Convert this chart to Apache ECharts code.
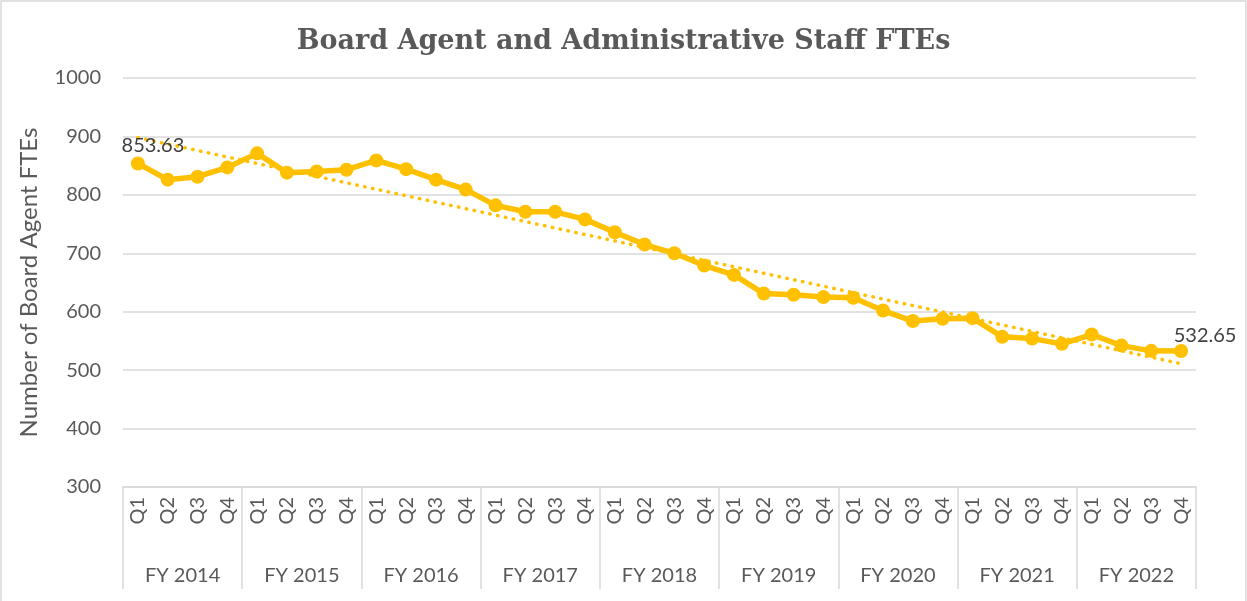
<!DOCTYPE html>
<html>
<head>
<meta charset="utf-8">
<script src="https://cdn.jsdelivr.net/npm/echarts@6/dist/echarts.min.js"></script>
<style>
  html, body { margin: 0; padding: 0; background: #fff; }
  #chart { width: 1247px; height: 601px; }
</style>
</head>
<body>
<div id="chart"></div>
<script>
const years = ['FY 2014', 'FY 2015', 'FY 2016', 'FY 2017', 'FY 2018', 'FY 2019', 'FY 2020', 'FY 2021', 'FY 2022']
const quarters = ['Q1', 'Q2', 'Q3', 'Q4']

// quarterly FTEs, FY2014 Q1 .. FY2022 Q4
const fteValues = [
  853.63, 826, 831, 847,
  871, 838, 840, 843,
  859, 844, 826, 809,
  782, 771, 771, 758,
  736, 715, 700, 679,
  663, 631, 629, 625,
  624, 602, 584, 588,
  589, 557, 554, 545,
  561, 542, 533, 532.65
]

// dotted linear trend, start and end values
const trendEnds = [898, 511]

const yTicks = { min: 300, max: 1000, step: 100 }

const GOLD = '#FFC000'
const GREY_TEXT = '#595959'
const GRID_LINE = '#d9d9d9'
const FONT = 'Lato, "Open Sans", sans-serif'

const quarterLabels = []
years.forEach(() => quarters.forEach(q => quarterLabels.push(q)))
const lastIdx = fteValues.length - 1

const chart = echarts.init(document.getElementById('chart'), null, { renderer: 'canvas' })

const options = {
  animation: false,
  backgroundColor: '#fff',
  textStyle: { fontFamily: FONT },
  title: {
    text: 'Board Agent and Administrative Staff FTEs',
    left: 'center',
    top: 23,
    textStyle: {
      fontFamily: '"DejaVu Serif", serif',
      fontWeight: 'bold',
      fontSize: 27,
      color: GREY_TEXT
    }
  },
  graphic: [
    {
      type: 'rect',
      shape: { x: 1, y: 1, width: 1245, height: 620 },
      style: { fill: 'none', stroke: GRID_LINE, lineWidth: 1.5 },
      silent: true
    }
  ],
  grid: { left: 123, right: 51, top: 78, bottom: 114, containLabel: false },
  xAxis: [
    {
      type: 'category',
      data: quarterLabels,
      boundaryGap: true,
      position: 'bottom',
      axisLine: { show: true, lineStyle: { color: GRID_LINE, width: 1.5 } },
      axisTick: { show: false },
      axisLabel: {
        rotate: 90,
        interval: 0,
        margin: 10,
        fontSize: 20,
        color: GREY_TEXT,
        fontFamily: FONT
      }
    },
    {
      type: 'category',
      data: years,
      boundaryGap: true,
      position: 'bottom',
      axisLine: { show: false },
      axisTick: { show: true, length: 102, interval: 0, lineStyle: { color: GRID_LINE, width: 1.5 } },
      axisLabel: {
        interval: 0,
        margin: 79,
        fontSize: 20,
        color: GREY_TEXT,
        fontFamily: FONT
      }
    }
  ],
  yAxis: {
    type: 'value',
    min: yTicks.min,
    max: yTicks.max,
    interval: yTicks.step,
    name: 'Number of Board Agent FTEs',
    nameLocation: 'middle',
    nameGap: 82,
    nameTextStyle: { fontSize: 24, color: GREY_TEXT, fontFamily: FONT },
    axisLine: { show: false },
    axisTick: { show: false },
    axisLabel: {
      fontSize: 20,
      color: GREY_TEXT,
      margin: 22,
      fontFamily: FONT,
      formatter: v => String(v)
    },
    splitLine: { lineStyle: { color: GRID_LINE, width: 1.5 } }
  },
  series: [
    {
      name: 'Trend',
      type: 'line',
      xAxisIndex: 0,
      data: [[0, trendEnds[0]], [lastIdx, trendEnds[1]]],
      symbol: 'none',
      silent: true,
      z: 1,
      lineStyle: { color: GOLD, width: 3.5, type: [0.5, 7.5], cap: 'round' }
    },
    {
      name: 'FTEs',
      type: 'line',
      xAxisIndex: 0,
      data: fteValues.map((v, i) => {
        if (i === 0) {
          return { value: v, label: { show: true, position: 'top', offset: [15, 4] } }
        }
        if (i === lastIdx) {
          return { value: v, label: { show: true, position: 'top', offset: [24, 6] } }
        }
        return v
      }),
      symbol: 'circle',
      symbolSize: 14,
      z: 3,
      itemStyle: { color: GOLD },
      lineStyle: { color: GOLD, width: 5.5 },
      label: {
        show: false,
        fontSize: 20,
        color: '#404040',
        fontFamily: FONT,
        formatter: p => p.value.toFixed(2)
      }
    }
  ]
}

chart.setOption(options)
window.addEventListener('resize', function () {
  chart.resize()
})
</script>
</body>
</html>
